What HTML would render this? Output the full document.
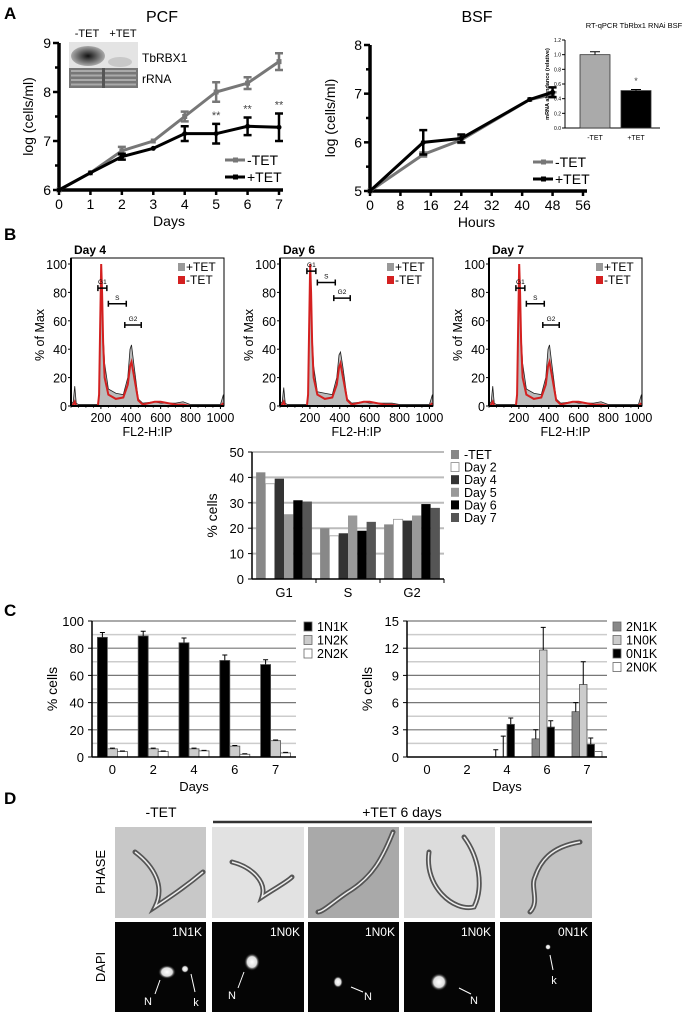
<!DOCTYPE html>
<html><head><meta charset="utf-8">
<style>
html,body{margin:0;padding:0;background:#fff;}
svg{display:block;font-family:"Liberation Sans",Arial,sans-serif;}
</style></head>
<body>
<svg id="s" width="694" height="1014" viewBox="0 0 694 1014" xmlns="http://www.w3.org/2000/svg">
<defs>
<radialGradient id="band" cx="0.5" cy="0.5" r="0.5"><stop offset="0" stop-color="#111"/><stop offset="1" stop-color="#aaa"/></radialGradient>
<radialGradient id="glow" cx="0.5" cy="0.5" r="0.5"><stop offset="0" stop-color="#fff"/><stop offset="0.6" stop-color="#ddd"/><stop offset="1" stop-color="#000" stop-opacity="0"/></radialGradient>
</defs>
<g font-weight="bold" font-size="17">
<text x="4" y="19">A</text>
<text x="4" y="240">B</text>
<text x="4" y="616">C</text>
<text x="4" y="804">D</text>
</g>
<g id="gA"></g><g id="gB"></g><g id="gC"></g><g id="gD"></g>
</svg>
<script>
const NS="http://www.w3.org/2000/svg";
function el(p,tag,at,txt){const e=document.createElementNS(NS,tag);for(const k in at)e.setAttribute(k,at[k]);if(txt!==undefined)e.textContent=txt;p.appendChild(e);return e;}

// ---------- Panel A data ----------
const pcfDays=[0,1,2,3,4,5,6,7];
const pcfMinus=[6,6.35,6.8,7.0,7.5,8.0,8.18,8.62];
const pcfMinusErr=[0,0,0.08,0,0.1,0.2,0.12,0.17];
const pcfPlus=[6,6.35,6.68,6.85,7.15,7.15,7.3,7.28];
const pcfPlusErr=[0,0,0.06,0,0.15,0.2,0.18,0.28];
const pcfStars=[5,6,7];
const bsfHours=[0,14,24,42,48];
const bsfMinus=[5,5.75,6.05,6.88,6.98];
const bsfMinusErr=[0,0.04,0.06,0,0.05];
const bsfPlus=[5,6.0,6.08,6.88,7.03];
const bsfPlusErr=[0,0.25,0.08,0,0.1];
const qpcrLabels=["-TET","+TET"];
const qpcrValues=[1.0,0.51];
const qpcrErr=[0.04,0.015];

const gA=document.getElementById('gA');
function lineChart(g,cfg){
  const X=v=>cfg.x0+(v-cfg.xmin)/(cfg.xmax-cfg.xmin)*(cfg.x1-cfg.x0);
  const Y=v=>cfg.y0-(v-cfg.ymin)/(cfg.ymax-cfg.ymin)*(cfg.y0-cfg.y1);
  el(g,'line',{x1:cfg.x0,y1:cfg.y0,x2:cfg.x1+4,y2:cfg.y0,stroke:'#000','stroke-width':3.5});
  el(g,'line',{x1:cfg.x0,y1:cfg.y0+1,x2:cfg.x0,y2:cfg.y1,stroke:'#000','stroke-width':3.5});
  cfg.xt.forEach(t=>{el(g,'line',{x1:X(t),y1:cfg.y0,x2:X(t),y2:cfg.y0+5,stroke:'#000','stroke-width':2.5});
    const tx=el(g,'text',{x:X(t),y:cfg.y0+19,'font-size':14,'text-anchor':'middle'},t);});
  for(let v=cfg.ymin;v<=cfg.ymax+1e-9;v+=0.5){const maj=Math.abs(v-Math.round(v))<1e-9;
    el(g,'line',{x1:cfg.x0-(maj?6:4),y1:Y(v),x2:cfg.x0,y2:Y(v),stroke:'#000','stroke-width':2.5});
    if(maj){const tx=el(g,'text',{x:cfg.x0-8,y:Y(v)+5,'font-size':14,'text-anchor':'end'},v);}}
  const yl=el(g,'text',{transform:`translate(${cfg.ylx},${(cfg.y0+cfg.y1)/2}) rotate(-90)`,'font-size':14,'text-anchor':'middle'},'log (cells/ml)');
  
  const xl=el(g,'text',{x:(cfg.x0+cfg.x1)/2,y:cfg.y0+36,'font-size':14,'text-anchor':'middle'},cfg.xlab);
  
  const tl=el(g,'text',{x:cfg.tx,y:22,'font-size':16,'text-anchor':'middle'},cfg.title);
  
  cfg.series.forEach(s=>{
    const p=el(g,'polyline',{points:s.x.map((v,i)=>X(v)+','+Y(s.y[i])).join(' '),fill:'none',stroke:s.c,'stroke-width':3});
    
    s.x.forEach((v,i)=>{const e=s.e[i];if(e>0){const xx=X(v);
      el(g,'path',{d:`M${xx},${Y(s.y[i]-e)}V${Y(s.y[i]+e)}M${xx-4},${Y(s.y[i]+e)}h8M${xx-4},${Y(s.y[i]-e)}h8`,stroke:s.c,'stroke-width':2.5,fill:'none'});}
      const m=s.name.indexOf('minus')>=0?el(g,'rect',{x:X(v)-2.5,y:Y(s.y[i])-2.5,width:5,height:5,fill:s.c}):el(g,'circle',{cx:X(v),cy:Y(s.y[i]),r:2.5,fill:s.c});
      });
  });
  cfg.legend.forEach((L,i)=>{const y=cfg.ly+i*17;
    el(g,'line',{x1:cfg.lx,y1:y,x2:cfg.lx+20,y2:y,stroke:L.c,'stroke-width':3});
    el(g,'rect',{x:cfg.lx+8,y:y-2.5,width:5,height:5,fill:L.c});
    const t=el(g,'text',{x:cfg.lx+22,y:y+5,'font-size':14},L.t);});
  return {X,Y};
}
const pcf=lineChart(gA,{x0:59,x1:279,y0:190,y1:43,xmin:0,xmax:7,ymin:6,ymax:9,xt:pcfDays,ylx:33,xlab:'Days',title:'PCF',tx:162,
  series:[{name:'pcf-minus-tet',x:pcfDays,y:pcfMinus,e:pcfMinusErr,c:'#777'},{name:'pcf-plus-tet',x:pcfDays,y:pcfPlus,e:pcfPlusErr,c:'#000'}],
  legend:[{t:'-TET',c:'#777'},{t:'+TET',c:'#000'}],lx:225,ly:160});
pcfStars.forEach(d=>{const i=pcfDays.indexOf(d);const t=el(gA,'text',{x:pcf.X(d),y:pcf.Y(pcfPlus[i]+pcfPlusErr[i])-5,'font-size':11,'text-anchor':'middle',fill:'#444'},'**');
  });
lineChart(gA,{x0:370,x1:583,y0:191,y1:45,xmin:0,xmax:56,ymin:5,ymax:8,xt:[0,8,16,24,32,40,48,56],ylx:335,xlab:'Hours',title:'BSF',tx:477,
  series:[{name:'bsf-minus-tet',x:bsfHours,y:bsfMinus,e:bsfMinusErr,c:'#777'},{name:'bsf-plus-tet',x:bsfHours,y:bsfPlus,e:bsfPlusErr,c:'#000'}],
  legend:[{t:'-TET',c:'#777'},{t:'+TET',c:'#000'}],lx:533,ly:162});
(function(){
 const g=el(gA,'g',{});
 el(g,'text',{x:87,y:37,'font-size':11,'text-anchor':'middle'},'-TET');
 el(g,'text',{x:123,y:37,'font-size':11,'text-anchor':'middle'},'+TET');
 el(g,'rect',{x:69,y:42,width:69,height:26,fill:'#e4e4e4'});
 el(g,'ellipse',{cx:88,cy:56,rx:17,ry:10,fill:'url(#band)'});
 el(g,'ellipse',{cx:120,cy:62,rx:12,ry:5,fill:'#c8c8c8'});
 el(g,'rect',{x:69,y:68,width:69,height:20,fill:'#777'});
 for(let i=0;i<4;i++)el(g,'rect',{x:71,y:70+i*4.5,width:65,height:2,fill:'#aaa'});
 el(g,'rect',{x:102,y:68,width:3,height:20,fill:'#555'});
 el(g,'text',{x:142,y:62,'font-size':12},'TbRBX1');
 el(g,'text',{x:142,y:83,'font-size':12},'rRNA');
})();
(function(){
 const g=el(gA,'g',{});
 const x0=565,y0=128,y1=40,Y=v=>y0-v/1.2*(y0-y1);
 el(g,'text',{x:634,y:28,'font-size':7.5,'text-anchor':'middle'},'RT-qPCR TbRbx1 RNAi BSF');
 el(g,'line',{x1:x0,y1:y0,x2:660,y2:y0,stroke:'#000','stroke-width':1});
 el(g,'line',{x1:x0,y1:y0,x2:x0,y2:y1,stroke:'#000','stroke-width':1});
 for(let v=0;v<=1.2001;v+=0.2){el(g,'line',{x1:x0-3,y1:Y(v),x2:x0,y2:Y(v),stroke:'#000'});
  el(g,'text',{x:x0-4,y:Y(v)+2,'font-size':5,'text-anchor':'end'},v.toFixed(1));}
 el(g,'text',{transform:`translate(${x0-16},${(y0+y1)/2}) rotate(-90)`,'font-size':5.5,'text-anchor':'middle','font-weight':'bold'},'mRNA abundance (relative)');
 const cols=['#aaa','#000'],cx=[595,636];
 qpcrValues.forEach((v,i)=>{const r=el(g,'rect',{x:cx[i]-15,y:Y(v),width:30,height:y0-Y(v),fill:cols[i],stroke:'#333','stroke-width':0.8});
  
  el(g,'path',{d:`M${cx[i]},${Y(v)}V${Y(v+qpcrErr[i])}M${cx[i]-5},${Y(v+qpcrErr[i])}h10`,stroke:'#000','stroke-width':1,fill:'none'});
  el(g,'text',{x:cx[i],y:y0+12,'font-size':7,'text-anchor':'middle'},qpcrLabels[i]);});
 el(g,'text',{x:636,y:Y(0.6),'font-size':9,'text-anchor':'middle',fill:'#444'},'*');
})();

// ---------- Panel B data ----------
const flowX=[0,15,25,35,50,100,180,188,195,202,208,215,225,250,300,350,380,395,405,420,450,480,560,600,700,750,800,1000,1020];
const day4Plus=[1,3,14,2,1,1,1,10,60,98,85,50,30,12,9,8,20,40,43,30,5,2,3,2,2,3,1,1,8];
const day4Minus=[0,1,3,0,0,0,0,8,55,100,80,45,20,8,5,6,15,28,31,22,4,1,3,3,1,1,0,0,2];
const day6Plus=[1,3,13,2,1,1,1,10,60,96,85,50,28,10,9,8,20,36,38,28,5,2,3,2,2,2,1,1,8];
const day6Minus=[0,1,3,0,0,0,0,8,55,100,80,45,20,8,5,6,15,27,30,21,4,1,3,3,1,1,0,0,2];
const day7Plus=[1,3,14,2,1,1,1,10,60,98,85,50,30,12,9,8,20,40,43,30,5,2,3,2,2,3,1,1,8];
const day7Minus=[0,1,3,0,0,0,0,8,55,100,80,45,20,8,5,6,15,28,31,22,4,1,3,3,1,1,0,0,2];
const flowDays=["Day 4","Day 6","Day 7"];
const gates4=[[180,240,83],[250,370,72],[360,470,57]];
const gates6=[[180,240,95],[250,370,87],[360,470,76]];
const gates7=[[180,240,83],[250,370,72],[360,470,57]];
const gB=document.getElementById('gB');
function flowPlot(x0,title,plus,minus,gates){
 const g=el(gB,'g',{});
 const x1=x0+153,y0=406,y1=264,X=v=>x0+v/1024*(x1-x0),Y=v=>y0-v/100*(y0-y1);
 el(g,'text',{x:x0+3,y:254,'font-size':12,'font-weight':'bold'},title);
 const pp=el(g,'polygon',{points:X(0)+','+y0+' '+flowX.map((v,i)=>X(v)+','+Y(plus[i])).join(' ')+' '+X(1024)+','+y0,fill:'#bbb',stroke:'#222','stroke-width':0.8});
 
 const pm=el(g,'polyline',{points:flowX.map((v,i)=>X(v)+','+Y(minus[i])).join(' '),fill:'none',stroke:'#d42020','stroke-width':2});
 
 el(g,'rect',{x:x0,y:y1-6,width:x1-x0,height:y0-y1+6,fill:'none',stroke:'#000','stroke-width':1});
 el(g,'line',{x1:x0,y1:y0,x2:x1,y2:y0,stroke:'#000','stroke-width':2});
 el(g,'line',{x1:x0,y1:y0,x2:x0,y2:y1-6,stroke:'#000','stroke-width':2});
 for(let v=0;v<=100;v+=20){el(g,'line',{x1:x0-3,y1:Y(v),x2:x0,y2:Y(v),stroke:'#000'});el(g,'text',{x:x0-4,y:Y(v)+5,'font-size':12.5,'text-anchor':'end'},v);}
 for(let v=200;v<=1000;v+=200){el(g,'line',{x1:X(v),y1:y0,x2:X(v),y2:y0+3,stroke:'#000'});el(g,'text',{x:X(v),y:y0+16,'font-size':12.5,'text-anchor':'middle'},v);}
 for(let v=0;v<=1000;v+=50)el(g,'line',{x1:X(v),y1:y0,x2:X(v),y2:y0+2,stroke:'#000','stroke-width':0.6});
 el(g,'text',{x:(x0+x1)/2,y:436,'font-size':12.5,'text-anchor':'middle'},'FL2-H:IP');
 el(g,'text',{transform:`translate(${x0-27},${(y0+y1)/2}) rotate(-90)`,'font-size':12.5,'text-anchor':'middle'},'% of Max');
 ['G1','S','G2'].forEach((n,i)=>{const [a,b,v]=gates[i];
  el(g,'path',{d:`M${X(a)},${Y(v)}H${X(b)}M${X(a)},${Y(v)-3}v6M${X(b)},${Y(v)-3}v6`,stroke:'#000','stroke-width':1.5,fill:'none'});
  el(g,'text',{x:(X(a)+X(b))/2,y:Y(v)-4,'font-size':6.5,'text-anchor':'middle'},n);});
 el(g,'rect',{x:x1-46,y:263,width:7,height:8,fill:'#999'});el(g,'text',{x:x1-38,y:271,'font-size':12},'+TET');
 el(g,'rect',{x:x1-46,y:276,width:7,height:8,fill:'#d42020'});el(g,'text',{x:x1-38,y:284,'font-size':12},'-TET');
}
flowPlot(71,flowDays[0],day4Plus,day4Minus,gates4);
flowPlot(280,flowDays[1],day6Plus,day6Minus,gates6);
flowPlot(489,flowDays[2],day7Plus,day7Minus,gates7);

const phases=["G1","S","G2"];
const ccSeries=["-TET","Day 2","Day 4","Day 5","Day 6","Day 7"];
const ccG1=[42,37.5,39.5,25.5,31,30.5];
const ccS=[20,17,18,25,19,22.5];
const ccG2=[21.5,23.5,23,25,29.5,28];
const ccColors=['#888','#fff','#333','#999','#000','#555'];
(function(){
 const g=el(gB,'g',{});
 const x0=252,x1=444,y0=579,y1=452,Y=v=>y0-v/50*(y0-y1);
 for(let v=10;v<=50;v+=10)el(g,'line',{x1:x0,y1:Y(v),x2:x1,y2:Y(v),stroke:'#bbb','stroke-width':2});
 const data=[ccG1,ccS,ccG2],gw=(x1-x0)/3,bw=9.3;
 data.forEach((arr,gi)=>{const gx=x0+gi*gw+(gw-bw*6)/2;
  arr.forEach((v,i)=>{const r=el(g,'rect',{x:gx+i*bw,y:Y(v),width:bw,height:y0-Y(v),fill:ccColors[i],stroke:i==1?'#999':'none','stroke-width':0.8});
   });
  el(g,'text',{x:x0+gi*gw+gw/2,y:y0+18,'font-size':13,'text-anchor':'middle'},phases[gi]);
  el(g,'line',{x1:x0+(gi+1)*gw,y1:y0,x2:x0+(gi+1)*gw,y2:y0+4,stroke:'#000'});});
 el(g,'line',{x1:x0,y1:y0,x2:x1,y2:y0,stroke:'#000','stroke-width':1.5});
 el(g,'line',{x1:x0,y1:y0,x2:x0,y2:y1,stroke:'#000','stroke-width':1.5});
 for(let v=0;v<=50;v+=10){el(g,'line',{x1:x0-4,y1:Y(v),x2:x0,y2:Y(v),stroke:'#000'});el(g,'text',{x:x0-8,y:Y(v)+5,'font-size':13,'text-anchor':'end'},v);}
 el(g,'text',{transform:`translate(${x0-35},${(y0+y1)/2}) rotate(-90)`,'font-size':14,'text-anchor':'middle'},'% cells');
 ccSeries.forEach((s,i)=>{const y=450+i*12.6;el(g,'rect',{x:451,y:y,width:8,height:9,fill:ccColors[i],stroke:i==1?'#888':'none','stroke-width':0.8});
  el(g,'text',{x:464,y:y+9,'font-size':12.5},s);});
})();

// ---------- Panel C ----------
const cDays=["0","2","4","6","7"];
const c1N1K=[88,89,84,71,68];const c1N1KErr=[3.5,3.5,3.5,4,3.5];
const c1N2K=[6,6,6,8,12];const c1N2KErr=[0.5,0.5,0.5,0.5,0.5];
const c2N2K=[4,4,4.5,2,3];const c2N2KErr=[0.4,0.4,0.4,0.4,0.4];
const c2N1K=[0,0,0,2,5];const c2N1KErr=[0,0,0.8,1,1];
const c1N0K=[0,0,0,11.8,8];const c1N0KErr=[0,0,2.3,2.5,2.5];
const c0N1K=[0,0,3.6,3.3,1.4];const c0N1KErr=[0,0,0.7,0.7,0.7];
const c2N0K=[0,0,0,0,0.6];const c2N0KErr=[0,0,0,0,0];
const gC=document.getElementById('gC');
function barChart(name,x0,x1,ymax,step,series,names,colors,lx){
 const g=el(gC,'g',{});
 const y0=757,y1=621,Y=v=>y0-v/ymax*(y0-y1),gw=(x1-x0)/5,n=series.length,bw=n==3?10:7.5;
 for(let k=1;k<=10;k++){el(g,'line',{x1:x0,y1:Y(ymax*k/10),x2:x1,y2:Y(ymax*k/10),stroke:k%2?'#ccc':'#777','stroke-width':k%2?1.5:1.2});}
 cDays.forEach((d,di)=>{const cx=x0+gw*di+gw/2;
  series.forEach((s,si)=>{const v=s.v[di],bx=cx-bw*n/2+si*bw;
   if(v>0){const r=el(g,'rect',{x:bx,y:Y(v),width:bw,height:y0-Y(v),fill:colors[si],stroke:'#555','stroke-width':0.8});
    }
   const e=s.e[di];if(e>0){const xx=bx+bw/2;el(g,'path',{d:`M${xx},${Y(v)}V${Y(v+e)}M${xx-2.5},${Y(v+e)}h5`,stroke:'#000','stroke-width':1,fill:'none'});}});
  el(g,'text',{x:cx,y:y0+17,'font-size':13,'text-anchor':'middle'},d);});
 el(g,'line',{x1:x0,y1:y0,x2:x1,y2:y0,stroke:'#000','stroke-width':1.5});
 el(g,'line',{x1:x0,y1:y0,x2:x0,y2:y1,stroke:'#000','stroke-width':1.5});
 for(let v=0;v<=ymax;v+=step){el(g,'line',{x1:x0-4,y1:Y(v),x2:x0,y2:Y(v),stroke:'#000'});el(g,'text',{x:x0-8,y:Y(v)+5,'font-size':13,'text-anchor':'end'},v);}
 el(g,'text',{transform:`translate(${x0-35},${(y0+y1)/2}) rotate(-90)`,'font-size':14,'text-anchor':'middle'},'% cells');
 el(g,'text',{x:(x0+x1)/2,y:791,'font-size':13,'text-anchor':'middle'},'Days');
 names.forEach((s,i)=>{const y=622+i*13.5;el(g,'rect',{x:lx,y:y,width:8,height:9,fill:colors[i],stroke:'#666','stroke-width':0.8});
  el(g,'text',{x:lx+13,y:y+9,'font-size':12.5},s);});
}
barChart('kinetoplast-chart-left',92,296,100,20,[{v:c1N1K,e:c1N1KErr},{v:c1N2K,e:c1N2KErr},{v:c2N2K,e:c2N2KErr}],['1N1K','1N2K','2N2K'],['#000','#ccc','#fff'],304);
barChart('kinetoplast-chart-right',407,607,15,3,[{v:c2N1K,e:c2N1KErr},{v:c1N0K,e:c1N0KErr},{v:c0N1K,e:c0N1KErr},{v:c2N0K,e:c2N0KErr}],['2N1K','1N0K','0N1K','2N0K'],['#888','#ccc','#000','#fff'],613);

// ---------- Panel D ----------
const gD=document.getElementById('gD');
(function(){
 el(gD,'text',{x:161,y:817,'font-size':14,'text-anchor':'middle'},'-TET');
 el(gD,'text',{x:402,y:817,'font-size':14,'text-anchor':'middle'},'+TET 6 days');
 el(gD,'line',{x1:213,y1:822,x2:592,y2:822,stroke:'#333','stroke-width':2.5});
 el(gD,'text',{transform:'translate(105,872) rotate(-90)','font-size':13,'text-anchor':'middle'},'PHASE');
 el(gD,'text',{transform:'translate(105,967) rotate(-90)','font-size':13,'text-anchor':'middle'},'DAPI');
 const cols=[[115,206],[212,304],[308,399],[404,495],[500,592]];
 const bgs=['#c8c8c8','#e2e2e2','#a9a9a9','#dcdcdc','#c2c2c2'];
 const labels=['1N1K','1N0K','1N0K','1N0K','0N1K'];
 const cells=['M20,25 C40,40 50,60 40,80 C55,70 70,60 88,45','M20,35 C40,40 55,55 50,70 C65,60 75,55 80,50','M85,5 C75,30 65,50 40,65 C25,75 15,85 10,85','M25,25 C20,60 50,85 70,80 C80,60 75,30 60,10','M80,15 C50,20 40,35 35,50 C30,60 40,75 30,85'];
 cols.forEach((c,i)=>{const w=c[1]-c[0];
  const p=el(gD,'g',{transform:`translate(${c[0]},827)`});
  el(p,'rect',{x:0,y:0,width:w,height:91,fill:bgs[i]});
  el(p,'path',{d:cells[i],fill:'none',stroke:'#555','stroke-width':5,'stroke-linecap':'round'});
  el(p,'path',{d:cells[i],fill:'none',stroke:'#eee','stroke-width':1.5});
  const d=el(gD,'g',{transform:`translate(${c[0]},922)`});
  el(d,'rect',{x:0,y:0,width:w,height:90,fill:'#050505'});
  el(d,'text',{x:w-4,y:14,'font-size':12,'text-anchor':'end',fill:'#fff'},labels[i]);
 });
 const dx=[115,212,308,404,500];
 function blob(i,x,y,rx,ry){el(gD,'ellipse',{cx:dx[i]+x,cy:922+y,rx:rx,ry:ry,fill:'url(#glow)'});}
 function arrow(i,x1,y1,x2,y2,t,tx,ty){el(gD,'line',{x1:dx[i]+x1,y1:922+y1,x2:dx[i]+x2,y2:922+y2,stroke:'#fff','stroke-width':1});
  el(gD,'text',{x:dx[i]+tx,y:922+ty,'font-size':11,fill:'#fff','text-anchor':'middle'},t);}
 blob(0,52,50,9,7);blob(0,70,47,4,4);arrow(0,45,58,40,72,'N',33,83);arrow(0,76,52,80,70,'k',81,84);
 blob(1,40,40,8,9);arrow(1,32,50,26,66,'N',20,77);
 blob(2,30,60,5,6);arrow(2,43,65,55,70,'N',60,78);
 blob(3,35,60,9,9);arrow(3,55,66,67,72,'N',70,82);
 blob(4,48,25,3,3);arrow(4,50,33,53,48,'k',54,62);
})();
</script>
</body></html>
